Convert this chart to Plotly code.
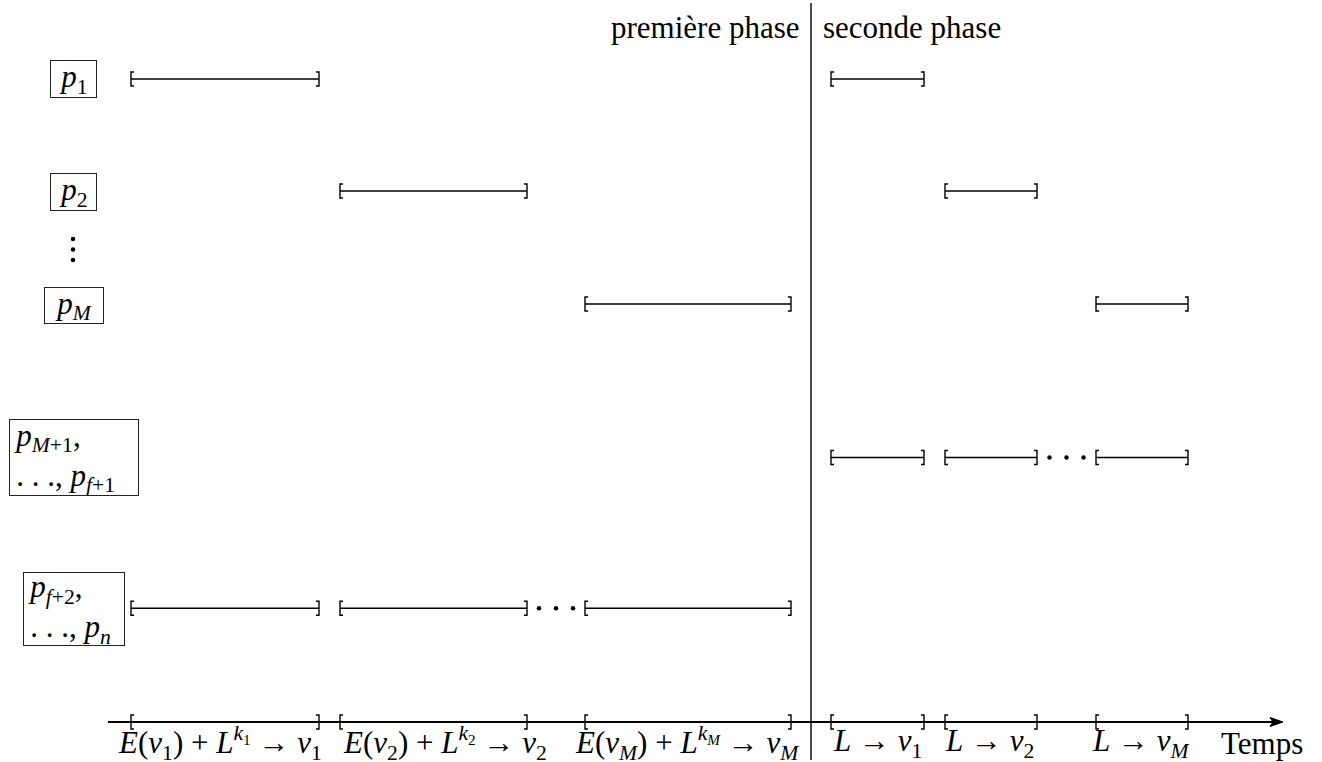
import plotly.graph_objects as go

# ---------------- data ----------------
# time positions of the intervals, in the horizontal units of the picture
phase1_start = [131, 340, 585]
phase1_end = [319, 527, 791]
phase2_start = [831, 945, 1096]
phase2_end = [924, 1037, 1188]
phase_split = 811
axis_start = 108
axis_end = 1283

phase1_labels = [
    "<i>E</i>(<i>v</i><sub>1</sub>) + <i>L</i><sup><i>k</i><sub>1</sub></sup> → <i>v</i><sub>1</sub>",
    "<i>E</i>(<i>v</i><sub>2</sub>) + <i>L</i><sup><i>k</i><sub>2</sub></sup> → <i>v</i><sub>2</sub>",
    "<i>E</i>(<i>v</i><sub><i>M</i></sub>) + <i>L</i><sup><i>k</i><sub><i>M</i></sub></sup> → <i>v</i><sub><i>M</i></sub>",
]
phase2_labels = [
    "<i>L</i> → <i>v</i><sub>1</sub>",
    "<i>L</i> → <i>v</i><sub>2</sub>",
    "<i>L</i> → <i>v</i><sub><i>M</i></sub>",
]
row_labels = [
    "<i>p</i><sub>1</sub>",
    "<i>p</i><sub>2</sub>",
    "<i>p</i><sub><i>M</i></sub>",
    "\u2009<i>p</i><sub><i>M</i>+1</sub>,<br>\u2009. . ., <i>p</i><sub><i>f</i>+1</sub>",
    "\u2009<i>p</i><sub><i>f</i>+2</sub>,<br>\u2009. . ., <i>p</i><sub><i>n</i></sub>",
]
# which intervals each processor row runs
row_phase1 = [[0], [1], [2], [], [0, 1, 2]]
row_phase2 = [[0], [1], [2], [0, 1, 2], []]
# rows showing "..." between the 2nd and 3rd interval: (row, phase)
row_ellipsis = [(3, 2), (4, 1)]
phase_titles = ["première phase", "seconde phase"]
axis_title = "Temps"

# ---------------- layout constants ----------------
W, H = 1322, 762
row_y = [79, 191, 304, 457.5, 608.3]
axis_y = 722
label_box_x = [73.5, 73.5, 74, 74, 74]
label_box_y = [79, 192, 305.5, 457.5, 609]
label_box_w = [47, 47, 60, 130, 102]
label_box_h = [38, 38, 37, 77, 74]
label_align = ["center", "center", "center", "left", "left"]
label_pad = [2, 2, 2, 0, 0]
phase1_label_dx = [-5, 11, -1]
phase2_label_dx = [0, -2, -1]
FONT = "Liberation Serif, Times New Roman, serif"
FS = 31
BH = 7   # bracket half height
ST = 3   # bracket stub length
LW = 1.4

fig = go.Figure()


def add_interval(xs, ys, s, e, y):
    xs += [s + ST, s, s, s + ST, None, s, e, None, e - ST, e, e, e - ST, None]
    ys += [y - BH, y - BH, y + BH, y + BH, None, y, y, None, y - BH, y - BH, y + BH, y + BH, None]


# processor rows
bx, by = [], []
for r, y in enumerate(row_y):
    for i in row_phase1[r]:
        add_interval(bx, by, phase1_start[i], phase1_end[i], y)
    for i in row_phase2[r]:
        add_interval(bx, by, phase2_start[i], phase2_end[i], y)
fig.add_trace(go.Scatter(x=bx, y=by, mode="lines", line=dict(color="black", width=LW),
                         hoverinfo="skip", showlegend=False))

# axis line + brackets on the axis
fig.add_trace(go.Scatter(x=[axis_start, axis_end - 8], y=[axis_y, axis_y], mode="lines",
                         line=dict(color="black", width=2), hoverinfo="skip", showlegend=False))
ax_x, ax_y = [], []
for i in range(3):
    add_interval(ax_x, ax_y, phase1_start[i], phase1_end[i], axis_y)
    add_interval(ax_x, ax_y, phase2_start[i], phase2_end[i], axis_y)
fig.add_trace(go.Scatter(x=ax_x, y=ax_y, mode="lines", line=dict(color="black", width=LW),
                         hoverinfo="skip", showlegend=False))
# arrow head
fig.add_trace(go.Scatter(
    x=[axis_end, axis_end - 13, axis_end - 10, axis_end - 13, axis_end],
    y=[axis_y, axis_y - 4.5, axis_y, axis_y + 4.5, axis_y],
    mode="lines", fill="toself", fillcolor="black", line=dict(color="black", width=1),
    hoverinfo="skip", showlegend=False))

# phase separator
fig.add_trace(go.Scatter(x=[phase_split, phase_split], y=[3, 760], mode="lines",
                         line=dict(color="black", width=LW), hoverinfo="skip", showlegend=False))

# ellipsis dots between intervals
dx, dy = [], []
for r, ph in row_ellipsis:
    if ph == 1:
        mid = (phase1_end[1] + phase1_start[2]) / 2
    else:
        mid = (phase2_end[1] + phase2_start[2]) / 2
    for k in (-17, 0, 17):
        dx.append(mid + k)
        dy.append(row_y[r])
# vertical dots between p2 and pM
for yy in (239, 249.5, 260):
    dx.append(73)
    dy.append(yy)
fig.add_trace(go.Scatter(x=dx, y=dy, mode="markers", marker=dict(color="black", size=4.5),
                         hoverinfo="skip", showlegend=False))

ann = []
# row labels in boxes
for r, lab in enumerate(row_labels):
    p = label_pad[r]
    ann.append(dict(x=label_box_x[r], y=label_box_y[r], text=lab, showarrow=False,
                    xanchor="center", yanchor="middle", align=label_align[r],
                    width=label_box_w[r] - 2 - 2 * p, height=label_box_h[r] - 2 - 2 * p,
                    bordercolor="#222", borderwidth=1, borderpad=p, bgcolor="white",
                    font=dict(family=FONT, size=FS, color="black")))
# axis labels
for i in range(3):
    ann.append(dict(x=(phase1_start[i] + phase1_end[i]) / 2 + phase1_label_dx[i], y=743,
                    text=phase1_labels[i], showarrow=False, xanchor="center", yanchor="middle",
                    font=dict(family=FONT, size=FS, color="black")))
    ann.append(dict(x=(phase2_start[i] + phase2_end[i]) / 2 + phase2_label_dx[i], y=743,
                    text=phase2_labels[i], showarrow=False, xanchor="center", yanchor="middle",
                    font=dict(family=FONT, size=FS, color="black")))
ann.append(dict(x=1262, y=743, text=axis_title, showarrow=False, xanchor="center", yanchor="middle",
                font=dict(family=FONT, size=FS, color="black")))
# phase titles
ann.append(dict(x=phase_split - 10, y=27, text=phase_titles[0], showarrow=False, xanchor="right",
                yanchor="middle", font=dict(family=FONT, size=FS, color="black")))
ann.append(dict(x=phase_split + 10, y=27, text=phase_titles[1], showarrow=False, xanchor="left",
                yanchor="middle", font=dict(family=FONT, size=FS, color="black")))

fig.update_layout(
    width=W, height=H, margin=dict(l=0, r=0, t=0, b=0),
    paper_bgcolor="white", plot_bgcolor="white",
    xaxis=dict(range=[0, W], visible=False, fixedrange=True),
    yaxis=dict(range=[H, 0], visible=False, fixedrange=True),
    annotations=ann, showlegend=False,
)

fig.write_html("out.html", config={"displayModeBar": False},
               post_script="document.body.style.margin='0';document.body.style.overflow='hidden';")
